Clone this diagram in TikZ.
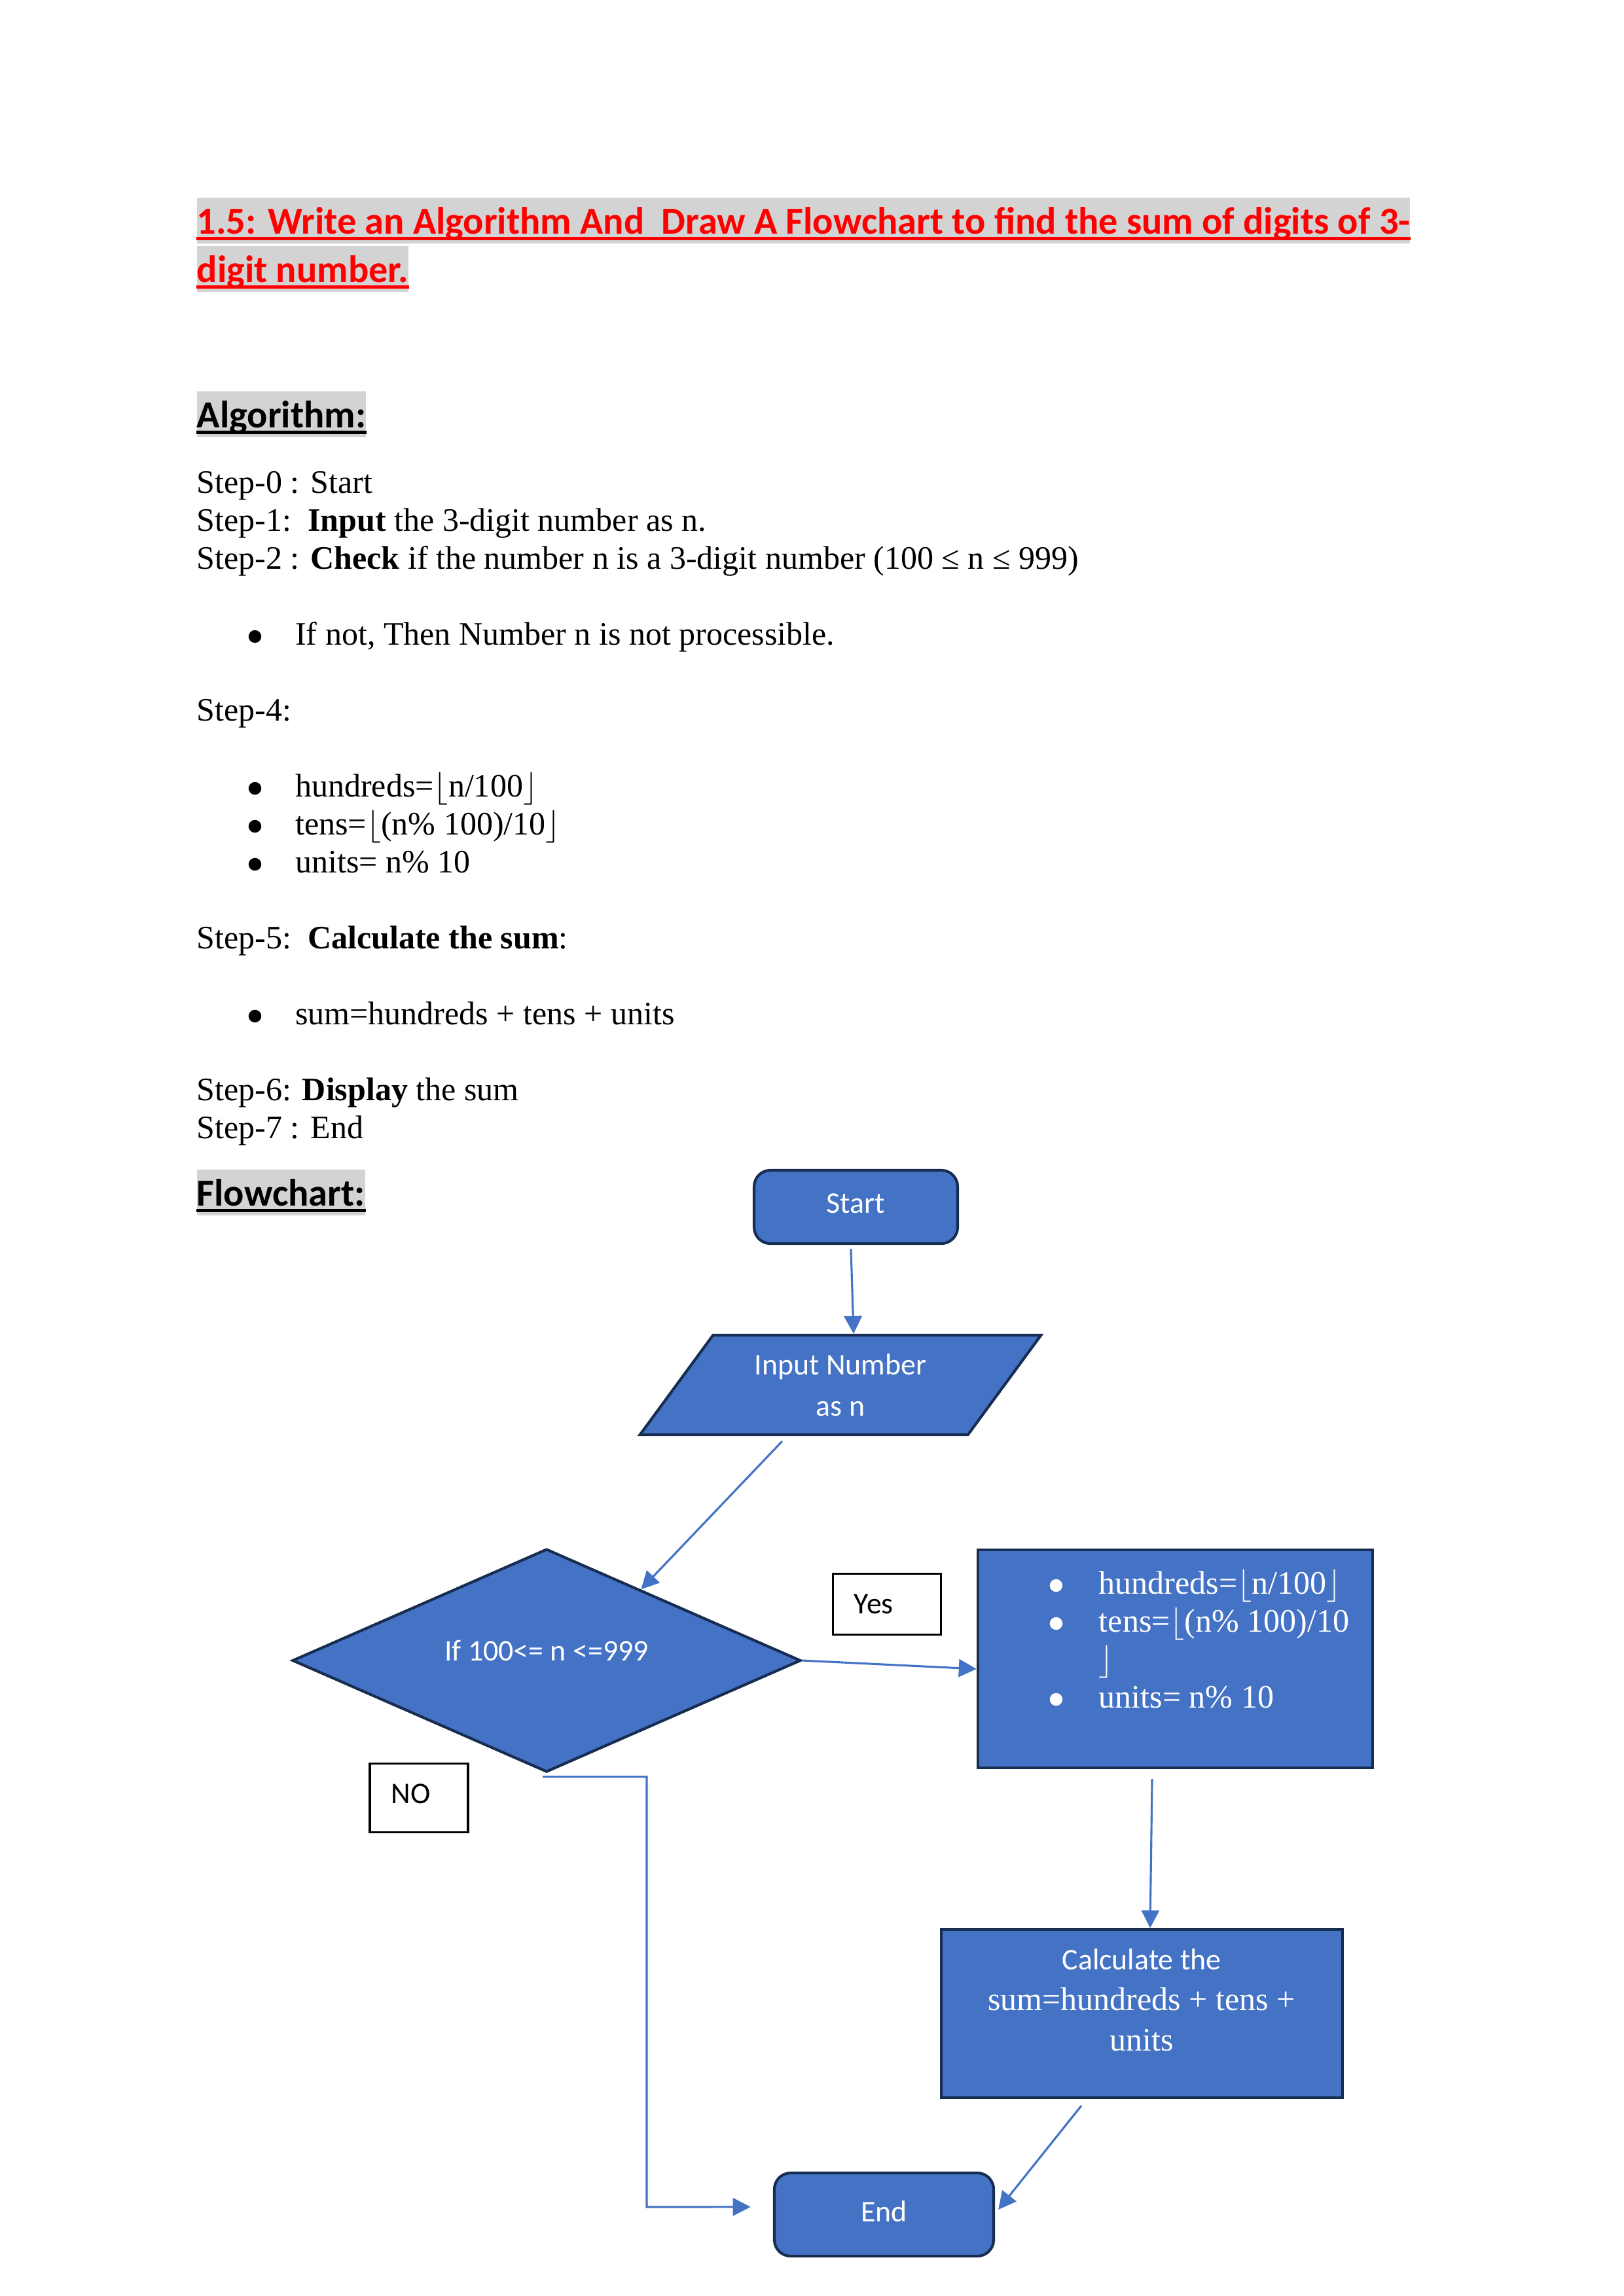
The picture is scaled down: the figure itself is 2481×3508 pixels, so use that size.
\documentclass[tikz,border=0pt]{standalone}
\usepackage{fontspec}
\setmainfont{Liberation Serif}
\newfontfamily\calibri{Carlito}
\usepackage{tikz}
\usetikzlibrary{shapes.geometric,arrows.meta}

\definecolor{boxblue}{HTML}{4472C4}
\definecolor{boxline}{HTML}{172C51}
\definecolor{hlgray}{HTML}{D3D3D3}

\newcommand\bulletbox[1][17.8pt]{\makebox[#1][l]{$\bullet$}}

\begin{document}
\begin{tikzpicture}[
  x=0.23993pt, y=-0.23993pt,
  every node/.style={inner sep=0pt},
  heading/.style={fill=hlgray, anchor=base west, text height=13.2pt, text depth=3.6pt,
    font={\calibri\bfseries\fontsize{14}{17}\selectfont}},
  body/.style={align=left, font={\fontsize{12}{13.92}\selectfont}},
  terminal/.style={draw=boxline, line width=1pt, fill=boxblue, rounded corners=6pt,
    text=white, text depth=2.6pt, font={\calibri\fontsize{11}{13.4}\selectfont}},
  process/.style={draw=boxline, line width=1pt, fill=boxblue},
  io/.style={trapezium, trapezium left angle=51.5, trapezium right angle=128.5,
    trapezium stretches=true, draw=boxline, line width=1pt, fill=boxblue,
    text=white, align=center, font={\calibri\fontsize{11}{15}\selectfont}},
  decision/.style={diamond, aspect=2.28, draw=boxline, line width=1pt, fill=boxblue,
    text=white, font={\calibri\fontsize{11}{13.4}\selectfont}},
  tag/.style={draw=black, line width=0.75pt, fill=white, align=left, inner xsep=7.8pt,
    font={\calibri\fontsize{11}{13.4}\selectfont}},
  flow/.style={draw=boxblue, line width=0.75pt, -{Triangle[length=6.5pt,width=6.5pt]}}
]
\path[fill=white, use as bounding box] (0,0) rectangle (2481,3508);

% title and headings
\node[heading, text=red] (title) at (300,357) {1.5: Write an Algorithm And\ \ Draw A Flowchart to find the sum of digits of 3-};
\node[heading, text=red] (title2) at (300,431) {digit number.};
\draw[red, line width=1.2pt] ([yshift=-1.9pt]title.base west) -- ([yshift=-1.9pt]title.base east);
\draw[red, line width=1.2pt] ([yshift=-1.9pt]title2.base west) -- ([yshift=-1.9pt]title2.base east);

\node[heading] (alghead) at (300,653) {Algorithm:};
\draw[line width=1.2pt] ([yshift=-1.9pt]alghead.base west) -- ([yshift=-1.9pt]alghead.base east);

% algorithm steps
\node[body, anchor=north west] (algo) at (300,719) {Step-0 : Start\\
Step-1:\ \ \textbf{Input} the 3-digit number as n.\\
Step-2 : \textbf{Check} if the number n is a 3-digit number (100 ≤ n ≤ 999)\\[13.92pt]
\hspace*{18.3pt}\bulletbox If not, Then Number n is not processible.\\[13.92pt]
Step-4:\\[13.92pt]
\hspace*{18.3pt}\bulletbox hundreds=$\lfloor$n/100$\rfloor$\\
\hspace*{18.3pt}\bulletbox tens=$\lfloor$(n\% 100)/10$\rfloor$\\
\hspace*{18.3pt}\bulletbox units= n\% 10\\[13.92pt]
Step-5:\ \ \textbf{Calculate the sum}:\\[13.92pt]
\hspace*{18.3pt}\bulletbox sum=hundreds + tens + units\\[13.92pt]
Step-6: \textbf{Display} the sum\\
Step-7 : End};

\node[heading] (flowhead) at (300,1842) {Flowchart:};
\draw[line width=1.2pt] ([yshift=-1.9pt]flowhead.base west) -- ([yshift=-1.9pt]flowhead.base east);

% flowchart
\node[terminal, minimum width=74.6pt, minimum height=26.9pt] (start) at (1307.5,1844) {Start};
\node[io, minimum width=148.3pt, minimum height=36.5pt] (input) at (1284,2116) {Input Number\\as n};
\node[decision, minimum width=186.4pt, minimum height=81.8pt, text height=8.5pt, text depth=8.5pt] (check) at (835,2537) {If 100<= n <=999};
\node[tag, text width=24pt, minimum height=22.3pt] (yes) at (1355,2451) {Yes};
\node[tag, text width=20.4pt, minimum height=25.2pt, text depth=3.2pt] (no) at (640,2747) {NO};

\node[process, minimum width=144.7pt, minimum height=79.9pt] (digits) at (1795.5,2534.5) {};
\node[body, anchor=north west, text=white] (digitstext) at (1601,2397) {\bulletbox[18.5pt]hundreds=$\lfloor$n/100$\rfloor$\\
\bulletbox[18.5pt]tens=$\lfloor$(n\% 100)/10\\
\hspace*{18.5pt}$\rfloor$\\
\bulletbox[18.5pt]units= n\% 10};

\node[process, minimum width=147.1pt, minimum height=61.7pt] (sum) at (1744.5,3076.5) {};
\node[align=center, anchor=north, text=white, font={\fontsize{12}{14.8}\selectfont}] (sumtext) at (1744,2977) {{\calibri\fontsize{11}{14.8}\selectfont Calculate the}\\
sum=hundreds + tens +\\
units};

\node[terminal, minimum width=80.4pt, minimum height=30.5pt] (stop) at (1350.5,3383.5) {End};

% connectors
\coordinate (nobend) at (988,3372);
\draw[flow] ([xshift=-1.8pt,yshift=-1.4pt]start.south) -- ([xshift=4.8pt]input.north);
\draw[flow] ([xshift=-21.4pt,yshift=-1.9pt]input.south) -- (check.37);
\draw[flow] (check.east) -- ([yshift=-3.7pt]digits.west);
\draw[flow] ([xshift=-8.5pt,yshift=-3.6pt]digits.south) -- ([xshift=3pt]sum.north);
\draw[flow] ([xshift=-22.2pt,yshift=-2.4pt]sum.south) -- ([xshift=1.2pt,yshift=1.8pt]stop.east);
\draw[flow] ([xshift=-1.4pt,yshift=-1.2pt]check.south) -| (nobend) -- ([xshift=-8.2pt,yshift=2.8pt]stop.west);
\end{tikzpicture}
\end{document}
